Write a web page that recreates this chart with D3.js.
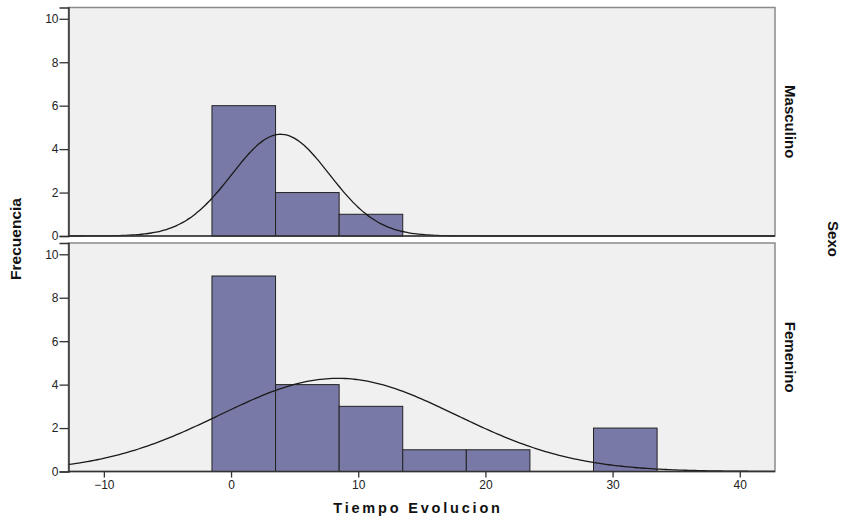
<!DOCTYPE html>
<meta charset="utf-8">
<style>
    body { margin: 0; background: #fff; }
    text { font-family: "Liberation Sans", Arial, sans-serif; }
    .tick text { font-size: 12px; fill: #222; }
    .lab { font-weight: bold; fill: #111; }
</style>
<body>
<svg width="844" height="523"></svg>
</body>
<script src="https://d3js.org/d3.v7.min.js"></script>
<script>
    // bins of Tiempo Evolucion (width 5)
    const binStarts = [-1.5, 3.5, 8.5, 13.5, 18.5, 23.5, 28.5];
    const binWidth = 5;
    const masculino = [6, 2, 1, 0, 0, 0, 0];
    const femenino = [9, 4, 3, 1, 1, 0, 2];
    const groups = ["Masculino", "Femenino"];
    // normal curve parameters
    const means = [3.9, 8.4];
    const sds = [3.83, 9.3];
    const yTicks = [0, 2, 4, 6, 8, 10];
    const xTicks = [-10, 0, 10, 20, 30, 40];

    const svg = d3.select("svg");

    const x = d3.scaleLinear().domain([-12.78, 42.77]).range([68.5, 775]);

    const panels = [
        {name: groups[0], counts: masculino, mean: means[0], sd: sds[0], top: 7.5, bottom: 236},
        {name: groups[1], counts: femenino, mean: means[1], sd: sds[1], top: 243, bottom: 471.5}
    ];

    panels.forEach(function (p) {
        const y = d3.scaleLinear().domain([0, 10.52]).range([p.bottom, p.top]);
        const g = svg.append("g");

        g.append("rect")
            .attr("x", 68.5).attr("y", p.top)
            .attr("width", 775 - 68.5).attr("height", p.bottom - p.top)
            .attr("fill", "#f0f0f0")
            .attr("stroke", "#8a8a8a")
            .attr("stroke-width", 1.5);

        const bins = binStarts.map((s, j) => ({x0: s, x1: s + binWidth, n: p.counts[j]}))
            .filter(d => d.n > 0);

        g.selectAll("rect.bar")
            .data(bins)
            .enter().append("rect")
            .attr("class", "bar")
            .attr("x", d => x(d.x0))
            .attr("y", d => y(d.n))
            .attr("width", d => x(d.x1) - x(d.x0))
            .attr("height", d => y(0) - y(d.n))
            .attr("fill", "#7979a7")
            .attr("stroke", "#222")
            .attr("stroke-width", 1);

        const n = d3.sum(p.counts);
        const pts = d3.range(-12.78, 42.8, 0.25).map(function (v) {
            const z = (v - p.mean) / p.sd;
            return [v, n * binWidth / (p.sd * Math.sqrt(2 * Math.PI)) * Math.exp(-0.5 * z * z)];
        });
        g.append("path")
            .attr("d", d3.line().x(d => x(d[0])).y(d => y(d[1])).curve(d3.curveBasis)(pts))
            .attr("fill", "none")
            .attr("stroke", "#1a1a1a")
            .attr("stroke-width", 1.3);

        const ya = g.append("g")
            .attr("transform", "translate(68.5,0)")
            .call(d3.axisLeft(y).tickValues(yTicks).tickSize(9).tickPadding(1));
        ya.select(".domain").attr("stroke", "#333").attr("stroke-width", 1.5);
        ya.selectAll(".tick line").attr("stroke", "#333").attr("stroke-width", 1.3);

        g.append("line")
            .attr("x1", 68.5).attr("x2", 775)
            .attr("y1", p.bottom).attr("y2", p.bottom)
            .attr("stroke", "#333").attr("stroke-width", 1.5);

        g.append("text")
            .attr("class", "lab")
            .attr("transform", "translate(785," + ((p.top + p.bottom) / 2) + ") rotate(90)")
            .attr("text-anchor", "middle")
            .style("font-size", "15px")
            .text(p.name);
    });

    const xa = svg.append("g")
        .attr("transform", "translate(0,471.5)")
        .call(d3.axisBottom(x).tickValues(xTicks).tickSize(6).tickPadding(3));
    xa.select(".domain").remove();
    xa.selectAll(".tick line").attr("stroke", "#333").attr("stroke-width", 1.3);

    svg.append("text")
        .attr("class", "lab")
        .attr("x", 418).attr("y", 513)
        .attr("text-anchor", "middle")
        .style("font-size", "14.5px")
        .style("letter-spacing", "2.8px")
        .text("Tiempo Evolucion");

    svg.append("text")
        .attr("class", "lab")
        .attr("transform", "translate(21,239) rotate(-90)")
        .attr("text-anchor", "middle")
        .style("font-size", "15.5px")
        .text("Frecuencia");

    svg.append("text")
        .attr("class", "lab")
        .attr("transform", "translate(828,239) rotate(90)")
        .attr("text-anchor", "middle")
        .style("font-size", "15px")
        .text("Sexo");
</script>
